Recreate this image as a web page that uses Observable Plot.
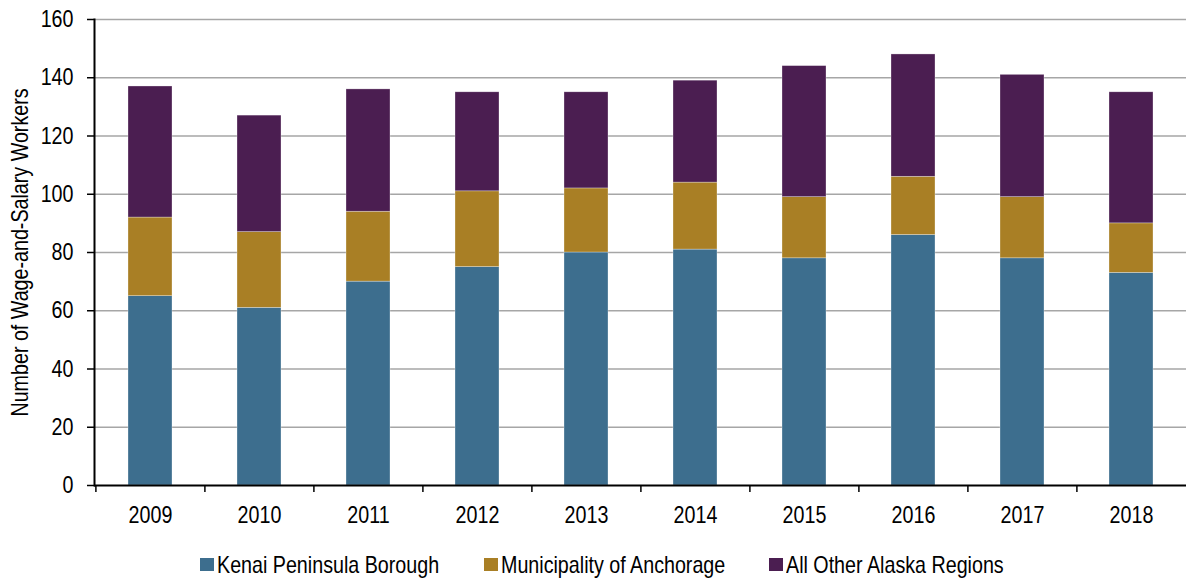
<!DOCTYPE html>
<html><head><meta charset="utf-8">
<script src="https://cdn.jsdelivr.net/npm/d3@7"></script>
<script src="https://cdn.jsdelivr.net/npm/@observablehq/plot@0.6"></script>
<style>
body{margin:0;background:#fff;font-family:"Liberation Sans",Arial,sans-serif;}
#chart{width:1186px;}
.lg-swatches{font-family:"Liberation Sans",Arial,sans-serif !important;font-size:24px !important;color:#000 !important;justify-content:center;margin:8px 0 0 0 !important;padding-left:18px;}
.narrow{display:inline-block;white-space:nowrap;transform:scaleX(0.82);transform-origin:left center;}
</style></head><body><div id="chart"></div><script>
const years = ["2009","2010","2011","2012","2013","2014","2015","2016","2017","2018"];
const seriesNames = ["Kenai Peninsula Borough","Municipality of Anchorage","All Other Alaska Regions"];
const kenai = [65,61,70,75,80,81,78,86,78,73];
const anchorage = [27,26,24,26,22,23,21,20,21,17];
const other = [45,40,42,34,33,35,45,42,42,45];
const colors = ["#3d6e8e","#a97f25","#4b1e51"];
const yTicks = [0,20,40,60,80,100,120,140,160];

const seriesValues = [kenai, anchorage, other];
const data = [];
seriesNames.forEach((s, i) => years.forEach((y, j) => data.push({year: y, series: s, value: seriesValues[i][j]})));

const W = 1186, ML = 94, MR = 0;
const step = (W - ML - MR) / years.length;
const NARROW = 0.82;

const plot = Plot.plot({
  width: W, height: 540,
  marginLeft: ML, marginRight: MR, marginTop: 19, marginBottom: 55,
  style: {fontFamily: '"Liberation Sans",Arial,sans-serif', fontSize: "24px", color: "#000", background: "#fff"},
  x: {domain: years, paddingInner: 0.6, paddingOuter: 0.3, label: null},
  y: {domain: [0, 160], label: null},
  color: {domain: seriesNames, range: colors},
  marks: [
    Plot.gridY(yTicks.filter(d => d > 0), {stroke: "#a6a6a6", strokeOpacity: 1, strokeWidth: 1.6}),
    Plot.barY(data, {x: "year", y: "value", fill: "series", stroke: "#ffffff", strokeWidth: 0.6, strokeOpacity: 0.5}),
    Plot.axisY({ticks: yTicks, tickSize: 7, tickPadding: 14, strokeWidth: 1.5, label: "Number of Wage-and-Salary Workers", labelAnchor: "center", labelArrow: "none", labelOffset: 84}),
    Plot.axisX({tickSize: 7, tickFormat: () => "", dx: -step / 2, strokeWidth: 1.5}),
    Plot.axisX({tickSize: 0, tickPadding: 20}),
    Plot.ruleY([0], {stroke: "#000", strokeWidth: 2}),
    Plot.frame({anchor: "left", stroke: "#000", strokeWidth: 2})
  ]
});
const chart = document.getElementById("chart");
chart.appendChild(plot);
// condense SVG text to mimic a narrow face
plot.querySelectorAll("text").forEach(t => {
  const parts = t.querySelector("tspan") ? [...t.querySelectorAll("tspan")] : [t];
  parts.forEach(el => {
    const L = el.getComputedTextLength();
    if (L > 0) { el.setAttribute("textLength", L * NARROW); el.setAttribute("lengthAdjust", "spacingAndGlyphs"); }
  });
});
const lg = Plot.legend({color: {domain: seriesNames, range: colors}, swatchWidth: 14, swatchHeight: 13, className: "lg"});
chart.appendChild(lg);
const sws = [...lg.querySelectorAll(".lg-swatch")];
sws.forEach((sw, i) => {
  sw.style.marginRight = i < sws.length - 1 ? "44px" : "0px";
  const svg = sw.querySelector("svg");
  if (svg) svg.style.marginRight = "3px";
  [...sw.childNodes].forEach(n => {
    if (n.nodeType === 3 && n.textContent.trim()) {
      const s = document.createElement("span");
      s.className = "narrow";
      s.textContent = n.textContent;
      sw.replaceChild(s, n);
      const w = s.offsetWidth;
      s.style.width = (w * NARROW) + "px";
    }
  });
});
</script></body></html>
